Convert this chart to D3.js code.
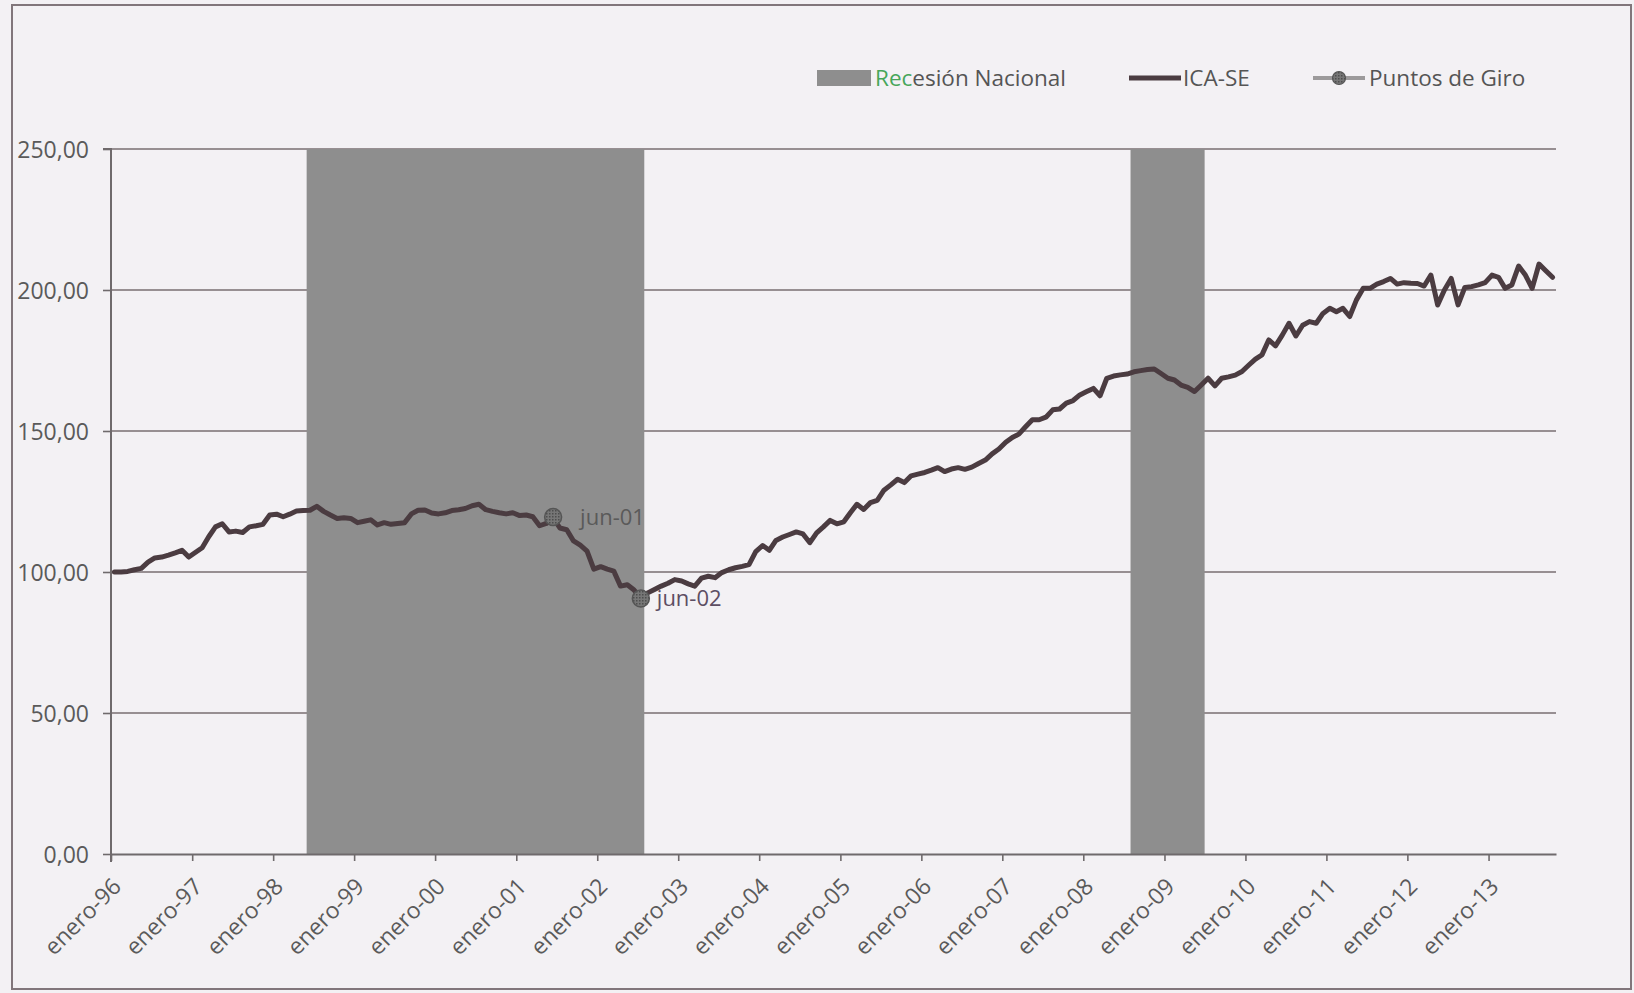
<!DOCTYPE html>
<html>
<head>
<meta charset="utf-8">
<script src="https://cdn.jsdelivr.net/npm/d3@7"></script>
<style>
  html, body { margin: 0; padding: 0; background: #f3f1f4; }
  svg { display: block; }
</style>
</head>
<body>
<svg id="chart" width="1634" height="993"></svg>
<script>
// ---------------- DATA ----------------
const seriesStart = "1996-01-01";           // first monthly observation (enero-96)
const icaValues = [
  100.0, 100.0, 100.2, 100.8, 101.3, 103.5, 105.0, 105.3, 106.0, 106.8,
  107.7, 105.3, 107.0, 108.6, 112.5, 116.0, 117.1, 114.2, 114.5, 114.0,
  116.0, 116.4, 116.9, 120.2, 120.5, 119.6, 120.5, 121.6, 121.8, 121.9,
  123.3, 121.5, 120.2, 119.0, 119.2, 119.0, 117.5, 118.0, 118.5, 116.7,
  117.5, 116.9, 117.2, 117.5, 120.6, 121.9, 122.0, 120.9, 120.6, 121.0,
  121.8, 122.1, 122.5, 123.5, 124.0, 122.1, 121.5, 121.0, 120.6, 121.0,
  120.0, 120.2, 119.6, 116.4, 117.2, 119.3, 115.6, 115.0, 111.0, 109.5,
  107.4, 101.0, 101.9, 101.0, 100.3, 95.0, 95.5, 93.6, 90.8, 92.6,
  93.8, 95.0, 96.0, 97.3, 96.8, 95.8, 95.0, 97.8, 98.5, 98.0,
  99.8, 100.8, 101.5, 102.0, 102.6, 107.2, 109.4, 107.7, 111.2, 112.4,
  113.3, 114.2, 113.5, 110.4, 113.9, 116.0, 118.3, 117.1, 117.8, 121.0,
  124.0, 122.2, 124.6, 125.4, 129.0, 130.9, 132.9, 131.7, 134.1, 134.7,
  135.3, 136.1, 137.0, 135.6, 136.5, 137.0, 136.4, 137.2, 138.5, 139.7,
  141.9, 143.6, 146.0, 147.7, 148.9, 151.5, 154.0, 154.0, 154.9, 157.5,
  157.8, 159.9, 160.8, 162.8, 164.0, 165.1, 162.5, 168.7, 169.5, 169.9,
  170.2, 171.0, 171.4, 171.8, 172.0, 170.4, 168.7, 168.1, 166.3, 165.5,
  164.0, 166.3, 168.7, 166.0, 168.7, 169.2, 169.8, 171.1, 173.4, 175.5,
  177.0, 182.3, 180.2, 184.0, 188.2, 183.7, 187.5, 188.8, 188.2, 191.7,
  193.5, 192.3, 193.5, 190.6, 196.5, 200.6, 200.6, 202.1, 203.0, 204.1,
  202.1, 202.6, 202.4, 202.3, 201.4, 205.3, 194.7, 200.0, 204.1, 194.7,
  200.9, 201.2, 201.8, 202.6, 205.3, 204.5, 200.6, 201.8, 208.5, 205.3,
  200.6, 209.2, 206.8, 204.5
];
const recessionStarts = ["1998-06-01", "2008-08-01"];
const recessionEnds   = ["2002-08-01", "2009-07-01"];
const turningLabels = ["jun-01", "jun-02"];
const turningDates  = ["2001-06-01", "2002-07-01"];   // positions as drawn in the source
const turningValues = [119.5, 90.6];
const xTickLabels = ["enero-96","enero-97","enero-98","enero-99","enero-00","enero-01",
  "enero-02","enero-03","enero-04","enero-05","enero-06","enero-07","enero-08",
  "enero-09","enero-10","enero-11","enero-12","enero-13"];
const yTickValues = [0, 50, 100, 150, 200, 250];
const legendLabels = ["Recesión Nacional", "ICA-SE", "Puntos de Giro"];

// ---------------- SETUP ----------------
const svg = d3.select("#chart");
const FONT = "'Open Sans', 'Noto Sans', sans-serif";
const parse = d3.utcParse("%Y-%m-%d");
const start = parse(seriesStart);
const midMonth = d => new Date((+d + +d3.utcMonth.offset(d, 1)) / 2);

const months = icaValues.map((v, i) => d3.utcMonth.offset(start, i));
const data = months.map((m, i) => ({ date: midMonth(m), value: icaValues[i] }));

const x = d3.scaleUtc()
  .domain([start, d3.utcMonth.offset(start, icaValues.length)])
  .range([111, 1556]);
const y = d3.scaleLinear().domain([0, 250]).range([854, 149]);

const locale = d3.formatLocale({ decimal: ",", thousands: ".", grouping: [3], currency: ["", ""] });
const fmt = locale.format(".2f");

// marker texture
const defs = svg.append("defs");
const pat = defs.append("pattern").attr("id", "dots").attr("patternUnits", "userSpaceOnUse")
  .attr("width", 3).attr("height", 3);
pat.append("rect").attr("width", 3).attr("height", 3).attr("fill", "#767676");
pat.append("rect").attr("width", 1.5).attr("height", 1.5).attr("fill", "#4e4e4e");

// background + frame
svg.append("rect").attr("x", 0).attr("y", 0).attr("width", 1634).attr("height", 993).attr("fill", "#f3f1f4");
svg.append("rect").attr("x", 12).attr("y", 5).attr("width", 1619).attr("height", 984)
  .attr("fill", "none").attr("stroke", "#81767b").attr("stroke-width", 2);

// gridlines
svg.append("g").selectAll("line").data(yTickValues.filter(v => v > 0)).join("line")
  .attr("x1", x.range()[0]).attr("x2", x.range()[1])
  .attr("y1", d => y(d)).attr("y2", d => y(d))
  .attr("stroke", "#786e72").attr("stroke-width", 1.6);

// recession shading
const recessions = recessionStarts.map((s, i) => ({ s: parse(s), e: parse(recessionEnds[i]) }));
svg.append("g").selectAll("rect").data(recessions).join("rect")
  .attr("x", d => x(d.s)).attr("width", d => x(d.e) - x(d.s))
  .attr("y", y(250)).attr("height", y(0) - y(250))
  .attr("fill", "#8e8e8e");

// y axis
const yAxis = d3.axisLeft(y).tickValues(yTickValues).tickFormat(fmt).tickSize(8).tickPadding(14);
const gy = svg.append("g").attr("transform", `translate(${x.range()[0]},0)`).call(yAxis);
gy.select(".domain").attr("stroke", "#6f6a6c").attr("stroke-width", 2)
  .attr("d", `M-8,${y(250)}H0V${y(0) + 8}`);
gy.selectAll(".tick line").attr("stroke", "#6f6a6c").attr("stroke-width", 1.6);
gy.selectAll(".tick text").attr("font-family", FONT).attr("font-size", 23)
  .attr("fill", "#5a5a5a").attr("dy", "0.36em");

// x axis
const tickDates = xTickLabels.map((t, i) => d3.utcYear.offset(start, i));
const xAxis = d3.axisBottom(x).tickValues(tickDates)
  .tickFormat((d, i) => xTickLabels[i]).tickSize(7).tickSizeOuter(0);
const gx = svg.append("g").attr("transform", `translate(0,${y(0)})`).call(xAxis);
gx.select(".domain").attr("stroke", "#6f6a6c").attr("stroke-width", 2);
gx.selectAll(".tick line").attr("stroke", "#6f6a6c").attr("stroke-width", 1.6);
gx.selectAll(".tick text")
  .attr("font-family", FONT).attr("font-size", 23).attr("fill", "#5a5a5a")
  .attr("text-anchor", "end").attr("x", 0).attr("y", 0).attr("dy", 0)
  .attr("transform", "translate(11,34) rotate(-45)");

// ICA-SE line
const line = d3.line().x(d => x(d.date)).y(d => y(d.value));
svg.append("path").datum(data)
  .attr("d", line).attr("fill", "none")
  .attr("stroke", "#4b3c41").attr("stroke-width", 5)
  .attr("stroke-linejoin", "round").attr("stroke-linecap", "round");

// turning points
const tp = turningDates.map((d, i) => ({ date: midMonth(parse(d)), value: turningValues[i], label: turningLabels[i] }));
const tpLabelDx = [27, 16];
const tpColors = ["#5a5a5a", "#5d4e63"];
const gtp = svg.append("g");
gtp.selectAll("circle").data(tp).join("circle")
  .attr("cx", d => x(d.date)).attr("cy", d => y(d.value)).attr("r", 8.5)
  .attr("fill", "url(#dots)").attr("stroke", "#555").attr("stroke-width", 1.5);
gtp.selectAll("text").data(tp).join("text")
  .attr("x", (d, i) => x(d.date) + tpLabelDx[i]).attr("y", d => y(d.value))
  .attr("dy", "0.36em")
  .attr("font-family", FONT).attr("font-size", 22)
  .attr("fill", (d, i) => tpColors[i])
  .text(d => d.label);

// legend
const lg = svg.append("g").attr("font-family", FONT).attr("font-size", 22.5);
const ly = 78;
lg.append("rect").attr("x", 817).attr("y", ly - 8).attr("width", 54).attr("height", 16).attr("fill", "#8e8e8e");
const t0 = lg.append("text").attr("x", 875).attr("y", ly).attr("dy", "0.36em").attr("fill", "#555");
t0.append("tspan").attr("fill", "#47a65a").text(legendLabels[0].slice(0, 3));
t0.append("tspan").text(legendLabels[0].slice(3));

lg.append("line").attr("x1", 1129).attr("x2", 1181).attr("y1", ly).attr("y2", ly)
  .attr("stroke", "#4b3c41").attr("stroke-width", 5);
lg.append("text").attr("x", 1183).attr("y", ly).attr("dy", "0.36em").attr("fill", "#555").text(legendLabels[1]);

lg.append("line").attr("x1", 1313).attr("x2", 1365).attr("y1", ly).attr("y2", ly)
  .attr("stroke", "#9c9a9b").attr("stroke-width", 4);
lg.append("circle").attr("cx", 1339).attr("cy", ly).attr("r", 6.5)
  .attr("fill", "url(#dots)").attr("stroke", "#555").attr("stroke-width", 1.2);
lg.append("text").attr("x", 1369).attr("y", ly).attr("dy", "0.36em").attr("fill", "#555").text(legendLabels[2]);
</script>
</body>
</html>
